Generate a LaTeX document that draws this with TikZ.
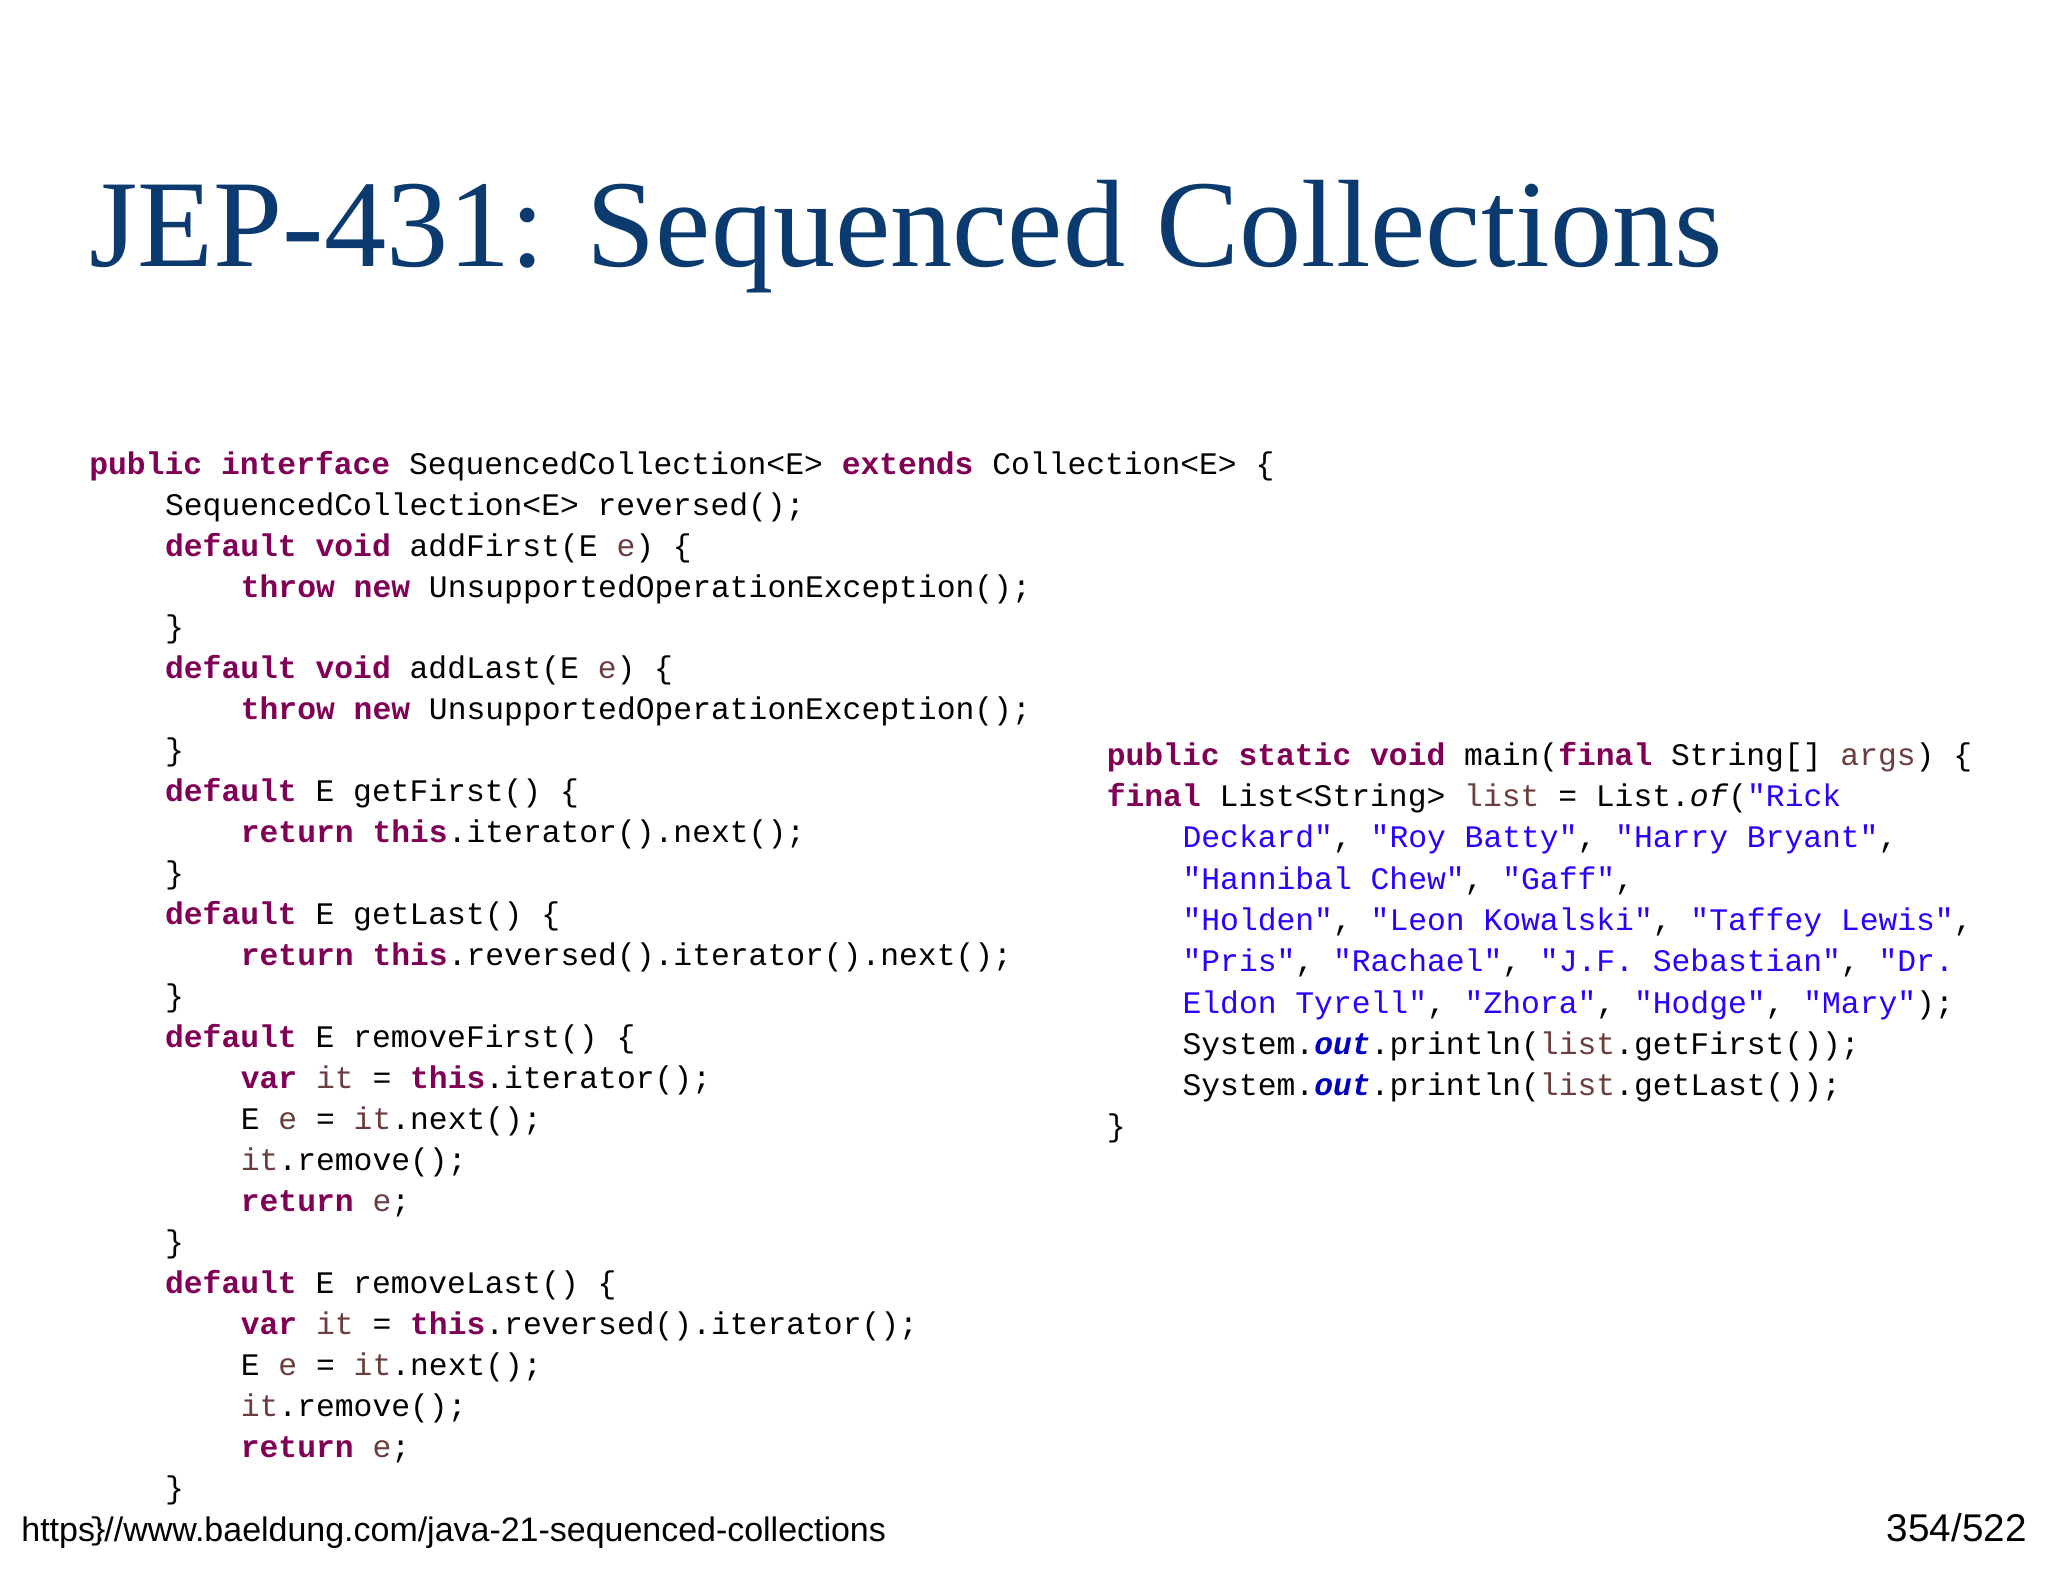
\documentclass[tikz,border=0pt]{standalone}
\usepackage{fontspec}
\setmainfont{Liberation Serif}
\newfontfamily\code{Liberation Mono}
\newfontfamily\foot{Liberation Sans}
\definecolor{kwc}{HTML}{7F0055}
\definecolor{stc}{HTML}{2A00FF}
\definecolor{vac}{HTML}{6A3E3E}
\definecolor{ouc}{HTML}{0000C0}
\definecolor{titc}{HTML}{0B3A6E}
\newcommand{\kw}[1]{\textcolor{kwc}{\bfseries #1}}
\newcommand{\st}[1]{\textcolor{stc}{#1}}
\newcommand{\va}[1]{\textcolor{vac}{#1}}
\newcommand{\ou}[1]{\textcolor{ouc}{\bfseries\itshape #1}}
\tikzset{cl/.style={anchor=base west,inner sep=0pt,font=\code\fontsize{12pt}{14pt}\selectfont},
foottext/.style={anchor=base west,inner sep=0pt,font=\foot\fontsize{13pt}{15pt}\selectfont}}
\begin{document}
\begin{tikzpicture}[x=1pt,y=-1pt]
\useasboundingbox (0,0) rectangle (784,605);
\node[anchor=base west,inner sep=0pt,text=titc,font=\fontsize{47.6pt}{56pt}\selectfont] (title) at (34,102) {JEP-431: Sequenced Collections};
\def\L{34}\def\M{63}\def\N{92}
\foreach \i/\x/\t in {
0/\L/{\kw{public} \kw{interface} SequencedCollection<E> \kw{extends} Collection<E> \{},
1/\M/{SequencedCollection<E> reversed();},
2/\M/{\kw{default} \kw{void} addFirst(E \va{e}) \{},
3/\N/{\kw{throw} \kw{new} UnsupportedOperationException();},
4/\M/{\}},
5/\M/{\kw{default} \kw{void} addLast(E \va{e}) \{},
6/\N/{\kw{throw} \kw{new} UnsupportedOperationException();},
7/\M/{\}},
8/\M/{\kw{default} E getFirst() \{},
9/\N/{\kw{return} \kw{this}.iterator().next();},
10/\M/{\}},
11/\M/{\kw{default} E getLast() \{},
12/\N/{\kw{return} \kw{this}.reversed().iterator().next();},
13/\M/{\}},
14/\M/{\kw{default} E removeFirst() \{},
15/\N/{\kw{var} \va{it} = \kw{this}.iterator();},
16/\N/{E \va{e} = \va{it}.next();},
17/\N/{\va{it}.remove();},
18/\N/{\kw{return} \va{e};},
19/\M/{\}},
20/\M/{\kw{default} E removeLast() \{},
21/\N/{\kw{var} \va{it} = \kw{this}.reversed().iterator();},
22/\N/{E \va{e} = \va{it}.next();},
23/\N/{\va{it}.remove();},
24/\N/{\kw{return} \va{e};},
25/\M/{\}}}
{\node[cl] (l\i) at (\x,{181.5+15.68*\i}) {\t};}
\node[cl] (l26) at (34,{181.5+15.68*26}) {\}};
\def\R{423.5}\def\S{452.5}
\foreach \i/\x/\t in {
0/\R/{\kw{public} \kw{static} \kw{void} main(\kw{final} String[] \va{args}) \{},
1/\R/{\kw{final} List<String> \va{list} = List.\textit{of}(\st{"Rick}},
2/\S/{\st{Deckard"}, \st{"Roy Batty"}, \st{"Harry Bryant"},},
3/\S/{\st{"Hannibal Chew"}, \st{"Gaff"},},
4/\S/{\st{"Holden"}, \st{"Leon Kowalski"}, \st{"Taffey Lewis"},},
5/\S/{\st{"Pris"}, \st{"Rachael"}, \st{"J.F. Sebastian"}, \st{"Dr.}},
6/\S/{\st{Eldon Tyrell"}, \st{"Zhora"}, \st{"Hodge"}, \st{"Mary"});},
7/\S/{System.\ou{out}.println(\va{list}.getFirst());},
8/\S/{System.\ou{out}.println(\va{list}.getLast());},
9/\R/{\}}}
{\node[cl] (r\i) at (\x,{293+15.8*\i}) {\t};}
\node[foottext] (url) at (8,590) {https://www.baeldung.com/java-21-sequenced-collections};
\node[anchor=base east,inner sep=0pt,font=\foot\fontsize{14.8pt}{16pt}\selectfont] (pg) at (776,590) {354/522};
\end{tikzpicture}
\end{document}
